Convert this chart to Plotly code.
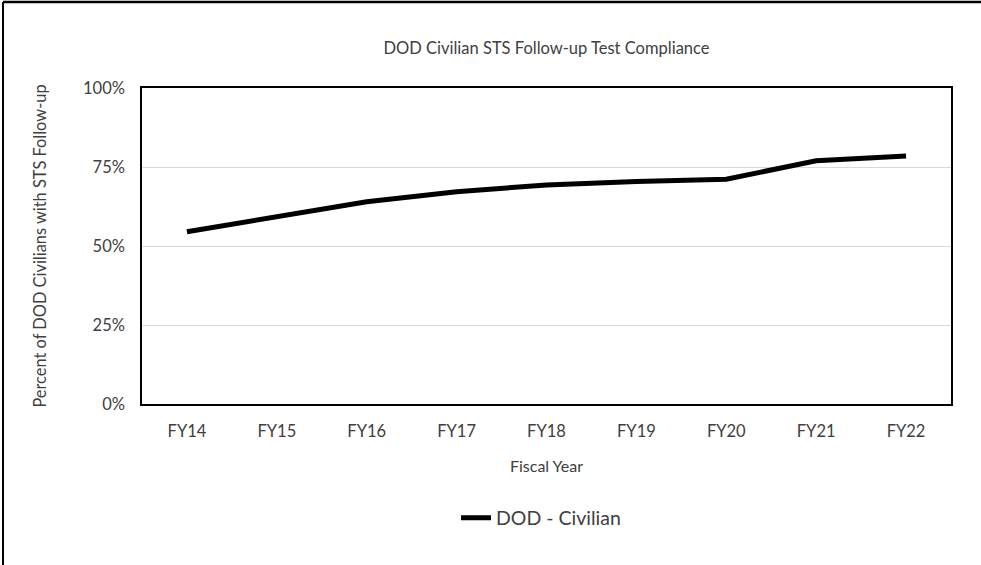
import plotly.graph_objects as go

categories = ["FY14", "FY15", "FY16", "FY17", "FY18", "FY19", "FY20", "FY21", "FY22"]
civilian = [0.545, 0.593, 0.640, 0.672, 0.693, 0.704, 0.711, 0.770, 0.785]
y_ticks = [0, 0.25, 0.5, 0.75, 1.0]
y_tick_labels = ["0%", "25%", "50%", "75%", "100%"]

FONT = "Lato"
TXT = "#404040"

fig = go.Figure()
fig.add_trace(go.Scatter(
    x=categories, y=civilian, mode="lines", name="DOD - Civilian",
    line=dict(color="black", width=5),
))

# plot area px: left 142, right 951, top 88, bottom 404
W, H = 981, 565
L, R, T, B = 142, 951, 88, 404
pw, ph = R - L, B - T

def px_x(x):
    return (x - L) / pw

def px_y(y):
    return (B - y) / ph

fig.update_layout(
    width=W, height=H,
    margin=dict(l=L, r=W - R, t=T, b=H - B),
    paper_bgcolor="white", plot_bgcolor="white",
    font=dict(family=FONT, color=TXT, size=16),
    title=dict(text="DOD Civilian STS Follow-up Test Compliance",
               x=0.5, xref="paper", xanchor="center",
               y=1 - 48 / H, yref="container", yanchor="middle",
               font=dict(family=FONT, size=16.5, color=TXT)),
    showlegend=True,
    legend=dict(orientation="h", x=px_x(456), xanchor="left",
                y=px_y(518), yanchor="middle",
                font=dict(family=FONT, size=19.5, color=TXT),
                bgcolor="rgba(0,0,0,0)"),
    xaxis=dict(
        type="category", range=[-0.5, len(categories) - 0.5],
        showgrid=False, zeroline=False,
        showline=True, linecolor="black", linewidth=1.5, mirror=True,
        ticks="outside", ticklen=11, tickcolor="rgba(0,0,0,0)",
        tickfont=dict(family=FONT, size=16.5, color=TXT),
        title=dict(text="Fiscal Year", standoff=21,
                   font=dict(family=FONT, size=16, color=TXT)),
        automargin=False, fixedrange=True,
    ),
    yaxis=dict(
        range=[0, 1.0], tickvals=y_ticks, ticktext=y_tick_labels,
        showgrid=True, gridcolor="#d9d9d9", gridwidth=1,
        zeroline=False,
        showline=True, linecolor="black", linewidth=1.5, mirror=True,
        ticks="outside", ticklen=12, tickcolor="rgba(0,0,0,0)",
        tickfont=dict(family=FONT, size=16.5, color=TXT),
        title=dict(text="Percent of DOD Civilians with STS Follow-up", standoff=32,
                   font=dict(family=FONT, size=16.4, color=TXT)),
        automargin=False, fixedrange=True,
    ),
)

# outer chart border (left and top visible, cropped on right/bottom)
fig.add_shape(type="line", xref="paper", yref="paper",
              x0=px_x(3), x1=px_x(W + 5), y0=px_y(2), y1=px_y(2),
              line=dict(color="black", width=2.5))
fig.add_shape(type="line", xref="paper", yref="paper",
              x0=px_x(3), x1=px_x(3), y0=px_y(2), y1=px_y(H + 5),
              line=dict(color="black", width=2))

fig.write_html("out.html", config={"displayModeBar": False},
               post_script="document.body.style.margin='0';")
